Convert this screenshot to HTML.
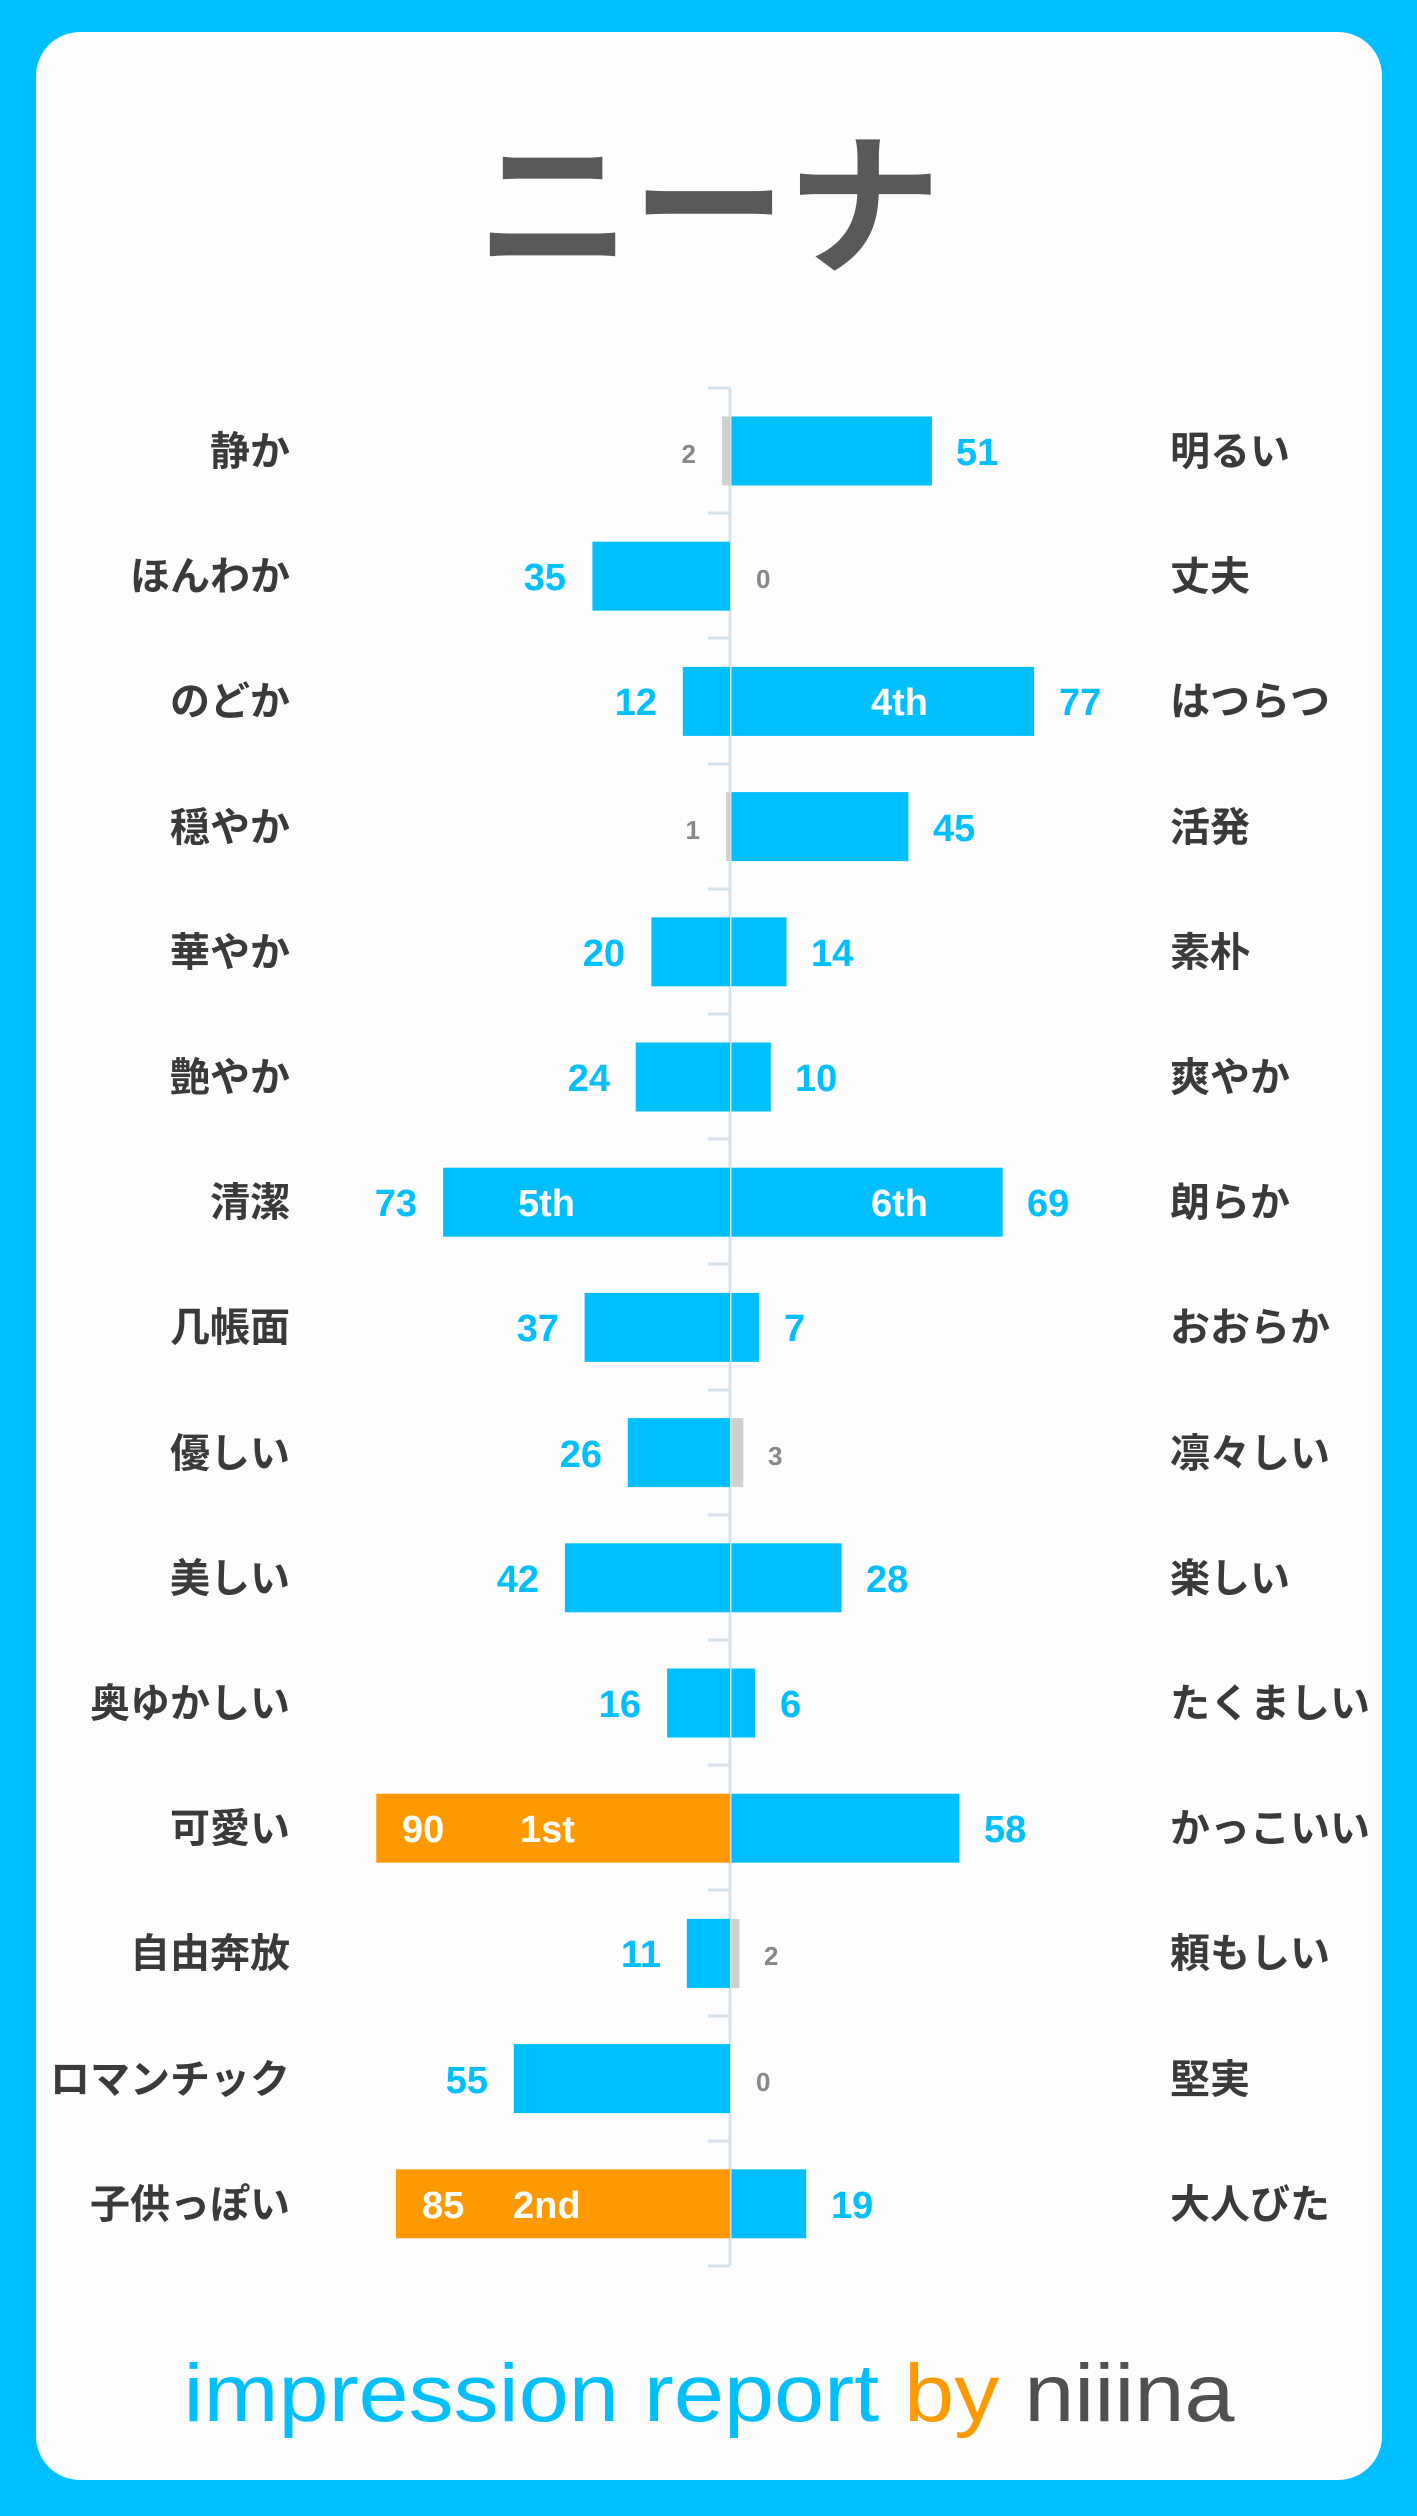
<!DOCTYPE html>
<html><head><meta charset="utf-8"><style>
html,body{margin:0;padding:0;background:#00BFFF;}
svg{display:block}
</style></head><body>
<svg width="1417" height="2516" viewBox="0 0 1417 2516" xmlns="http://www.w3.org/2000/svg">
<rect x="0" y="0" width="1417" height="2516" fill="#00BFFF"/>
<rect x="36" y="32" width="1346" height="2448" rx="44" fill="#FDFDFD"/>
<text x="709" y="262" text-anchor="middle" font-family="'Noto Sans CJK JP', sans-serif" font-size="155" font-weight="bold" fill="#595959">ニーナ</text>
<g stroke="#D6E2EE" stroke-width="3">
<line x1="730" y1="388" x2="730" y2="2266"/>
<line x1="708" y1="388" x2="730" y2="388"/><line x1="708" y1="513" x2="730" y2="513"/><line x1="708" y1="638" x2="730" y2="638"/><line x1="708" y1="764" x2="730" y2="764"/><line x1="708" y1="889" x2="730" y2="889"/><line x1="708" y1="1014" x2="730" y2="1014"/><line x1="708" y1="1139" x2="730" y2="1139"/><line x1="708" y1="1264" x2="730" y2="1264"/><line x1="708" y1="1390" x2="730" y2="1390"/><line x1="708" y1="1515" x2="730" y2="1515"/><line x1="708" y1="1640" x2="730" y2="1640"/><line x1="708" y1="1765" x2="730" y2="1765"/><line x1="708" y1="1890" x2="730" y2="1890"/><line x1="708" y1="2016" x2="730" y2="2016"/><line x1="708" y1="2141" x2="730" y2="2141"/><line x1="708" y1="2266" x2="730" y2="2266"/>
</g>
<g>
<rect x="722.1" y="416.5" width="7.9" height="69" fill="#D0D0D0"/><rect x="731.5" y="416.5" width="200.4" height="69" fill="#00BFFF"/>
<rect x="592.4" y="541.7" width="137.6" height="69" fill="#00BFFF"/>
<rect x="682.8" y="666.9" width="47.2" height="69" fill="#00BFFF"/><rect x="731.5" y="666.9" width="302.6" height="69" fill="#00BFFF"/>
<rect x="726.1" y="792.1" width="3.9" height="69" fill="#D0D0D0"/><rect x="731.5" y="792.1" width="176.9" height="69" fill="#00BFFF"/>
<rect x="651.4" y="917.3" width="78.6" height="69" fill="#00BFFF"/><rect x="731.5" y="917.3" width="55" height="69" fill="#00BFFF"/>
<rect x="635.7" y="1042.5" width="94.3" height="69" fill="#00BFFF"/><rect x="731.5" y="1042.5" width="39.3" height="69" fill="#00BFFF"/>
<rect x="443.1" y="1167.7" width="286.9" height="69" fill="#00BFFF"/><rect x="731.5" y="1167.7" width="271.2" height="69" fill="#00BFFF"/>
<rect x="584.6" y="1292.9" width="145.4" height="69" fill="#00BFFF"/><rect x="731.5" y="1292.9" width="27.5" height="69" fill="#00BFFF"/>
<rect x="627.8" y="1418.1" width="102.2" height="69" fill="#00BFFF"/><rect x="731.5" y="1418.1" width="11.8" height="69" fill="#D0D0D0"/>
<rect x="564.9" y="1543.3" width="165.1" height="69" fill="#00BFFF"/><rect x="731.5" y="1543.3" width="110" height="69" fill="#00BFFF"/>
<rect x="667.1" y="1668.5" width="62.9" height="69" fill="#00BFFF"/><rect x="731.5" y="1668.5" width="23.6" height="69" fill="#00BFFF"/>
<rect x="376.3" y="1793.7" width="353.7" height="69" fill="#FF9900"/><rect x="731.5" y="1793.7" width="227.9" height="69" fill="#00BFFF"/>
<rect x="686.8" y="1918.9" width="43.2" height="69" fill="#00BFFF"/><rect x="731.5" y="1918.9" width="7.9" height="69" fill="#D0D0D0"/>
<rect x="513.8" y="2044.1" width="216.2" height="69" fill="#00BFFF"/>
<rect x="395.9" y="2169.3" width="334.1" height="69" fill="#FF9900"/><rect x="731.5" y="2169.3" width="74.7" height="69" fill="#00BFFF"/>
</g>
<g font-family="'Liberation Sans','Noto Sans CJK JP',sans-serif" font-weight="bold" font-size="40" fill="#3A3A3A" text-anchor="end">
<text x="290" y="465">静か</text><text x="290" y="590">ほんわか</text><text x="290" y="715">のどか</text><text x="290" y="841">穏やか</text><text x="290" y="966">華やか</text><text x="290" y="1091">艶やか</text><text x="290" y="1216">清潔</text><text x="290" y="1341">几帳面</text><text x="290" y="1467">優しい</text><text x="290" y="1592">美しい</text><text x="290" y="1717">奥ゆかしい</text><text x="290" y="1842">可愛い</text><text x="290" y="1967">自由奔放</text><text x="290" y="2093">ロマンチック</text><text x="290" y="2218">子供っぽい</text>
</g>
<g font-family="'Liberation Sans','Noto Sans CJK JP',sans-serif" font-weight="bold" font-size="40" fill="#3A3A3A">
<text x="1170" y="465">明るい</text><text x="1170" y="590">丈夫</text><text x="1170" y="715">はつらつ</text><text x="1170" y="841">活発</text><text x="1170" y="966">素朴</text><text x="1170" y="1091">爽やか</text><text x="1170" y="1216">朗らか</text><text x="1170" y="1341">おおらか</text><text x="1170" y="1467">凛々しい</text><text x="1170" y="1592">楽しい</text><text x="1170" y="1717">たくましい</text><text x="1170" y="1842">かっこいい</text><text x="1170" y="1967">頼もしい</text><text x="1170" y="2093">堅実</text><text x="1170" y="2218">大人びた</text>
</g>
<g font-family="'Liberation Sans',sans-serif" font-weight="bold" font-size="38" fill="#00BFFF" text-anchor="end">
<text x="566" y="590">35</text><text x="657" y="715">12</text><text x="625" y="966">20</text><text x="610" y="1091">24</text><text x="417" y="1216">73</text><text x="559" y="1341">37</text><text x="602" y="1467">26</text><text x="539" y="1592">42</text><text x="641" y="1717">16</text><text x="661" y="1967">11</text><text x="488" y="2093">55</text>
</g>
<g font-family="'Liberation Sans',sans-serif" font-weight="bold" font-size="38" fill="#00BFFF">
<text x="956" y="465">51</text><text x="1059" y="715">77</text><text x="933" y="841">45</text><text x="811" y="966">14</text><text x="795" y="1091">10</text><text x="1027" y="1216">69</text><text x="784" y="1341">7</text><text x="866" y="1592">28</text><text x="780" y="1717">6</text><text x="984" y="1842">58</text><text x="831" y="2218">19</text>
</g>
<g font-family="'Liberation Sans',sans-serif" font-weight="bold" font-size="38" fill="#FFFFFF">
<text x="871" y="715">4th</text><text x="518" y="1216">5th</text><text x="871" y="1216">6th</text>
<text x="402" y="1842">90</text><text x="520" y="1842">1st</text>
<text x="422" y="2218">85</text><text x="513" y="2218">2nd</text>
</g>
<g font-family="'Liberation Sans',sans-serif" font-weight="bold" font-size="26" fill="#888888">
<text x="696" y="463" text-anchor="end">2</text><text x="756" y="588">0</text><text x="700" y="839" text-anchor="end">1</text><text x="768" y="1465">3</text><text x="764" y="1965">2</text><text x="756" y="2091">0</text>
</g>
<text x="709" y="2421" text-anchor="middle" font-family="'Liberation Sans', sans-serif" font-size="82" textLength="1051" lengthAdjust="spacingAndGlyphs"><tspan fill="#00BFFF">impression report </tspan><tspan fill="#FF9900">by </tspan><tspan fill="#505050">niiina</tspan></text>
</svg>
</body></html>
